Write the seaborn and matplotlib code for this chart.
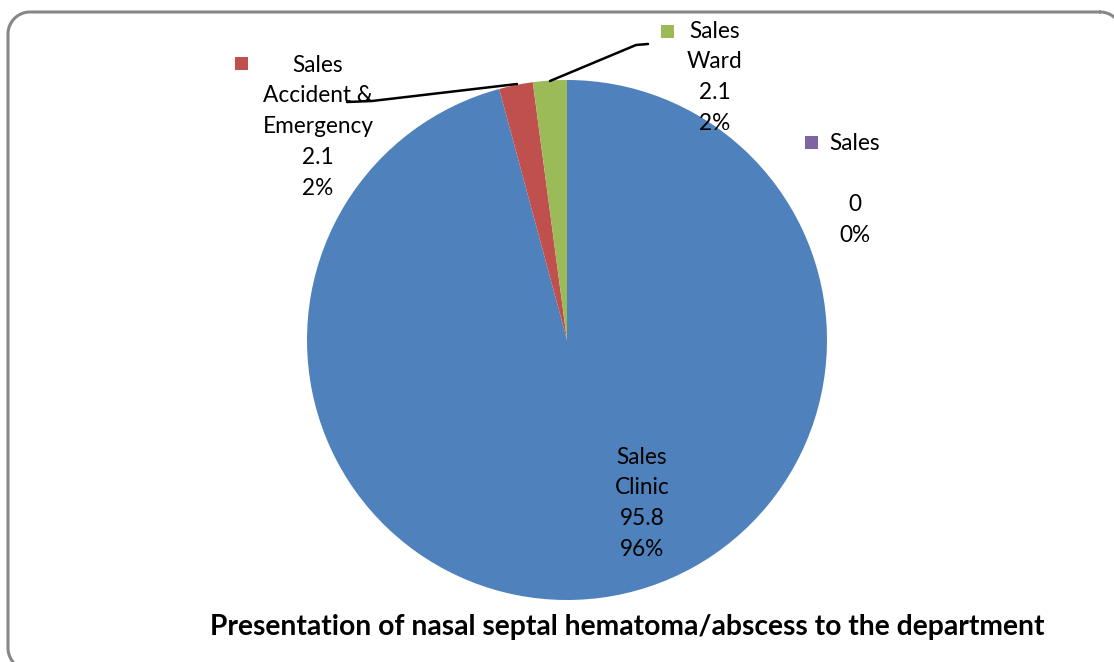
import matplotlib
matplotlib.use("Agg")
import numpy as np
import matplotlib.pyplot as plt
import seaborn as sns
from matplotlib.patches import Rectangle

# data
categories = ["Clinic", "Accident &\nEmergency", "Ward", ""]
values = [95.8, 2.1, 2.1, 0.0]
pct_labels = ["96%", "2%", "2%", "0%"]
series_name = "Sales"
title = "Presentation of nasal septal hematoma/abscess to the department"

sns.set_theme(style="white")
plt.rcParams["font.family"] = ["Lato", "DejaVu Sans"]

colors = ["#4F81BD", "#C0504D", "#9BBB59", "#8064A2"]
W, H = 1114, 662
fig = plt.figure(figsize=(W / 100, H / 100), dpi=100)

# overlay in pixel coords (y down) for frame, labels and leader lines
over = fig.add_axes([0, 0, 1, 1])
over.set_zorder(2)
over.set_xlim(0, W)
over.set_ylim(H, 0)
over.axis("off")


def rounded_frame(ax, x0, y0, x1, y1, rad, **kw):
    """Closed rounded-rectangle outline in pixel coords (y pointing down)."""
    pts = []
    corners = [((x1 - rad, y0 + rad), -90, 0), ((x1 - rad, y1 - rad), 0, 90),
               ((x0 + rad, y1 - rad), 90, 180), ((x0 + rad, y0 + rad), 180, 270)]
    for (ccx, ccy), a0, a1 in corners:
        t = np.radians(np.linspace(a0, a1, 20))
        pts += list(zip(ccx + rad * np.cos(t), ccy + rad * np.sin(t)))
    pts.append(pts[0])
    xs, ys = zip(*pts)
    ax.plot(xs, ys, **kw)


rounded_frame(over, 8, 12, 1122, 670, 22, color="#878787", lw=2.2, clip_on=True)

# pie: centre (567, 340), radius 260 px
cx, cy, r = 567, 340, 260
ax = fig.add_axes([(cx - r) / W, (H - cy - r) / H, 2 * r / W, 2 * r / H])
ax.set_zorder(1)
ax.pie(values, colors=colors, startangle=90, counterclock=False,
       wedgeprops=dict(linewidth=0))
ax.set_xlim(-1, 1)
ax.set_ylim(-1, 1)
ax.set_aspect("equal")
ax.axis("off")

fs = 16.3
# label layout: (x center, y of first line), key square position
label_pos = [(642, 457), (318, 65), (715, 31), (855, 143)]
key_pos = [None, (241, 63), (667, 31), (811, 142)]
step = 30.8
for i, (cat, v, p) in enumerate(zip(categories, values, pct_labels)):
    lines = [series_name] + cat.split("\n") + [f"{v:g}", p]
    x0, y0 = label_pos[i]
    for j, t in enumerate(lines):
        if i == 3 and j == 0:
            over.text(829, y0, t, fontsize=fs, ha="left", va="center", color="black")
            continue
        over.text(x0, y0 + j * step, t, fontsize=fs, ha="center", va="center", color="black")
    if key_pos[i] is not None:
        kx, ky = key_pos[i]
        over.add_patch(Rectangle((kx - 6.5, ky - 6.5), 13, 13, color=colors[i], linewidth=0))

# leader lines
over.plot([347, 372, 517], [102, 101, 84], color="black", lw=1.8)
over.plot([550, 636, 648], [81, 45, 44], color="black", lw=1.8)

over.text(627, 627, title, fontsize=20.3, fontweight="bold", ha="center", va="center", color="black")

fig.savefig("out.png", dpi=100)
